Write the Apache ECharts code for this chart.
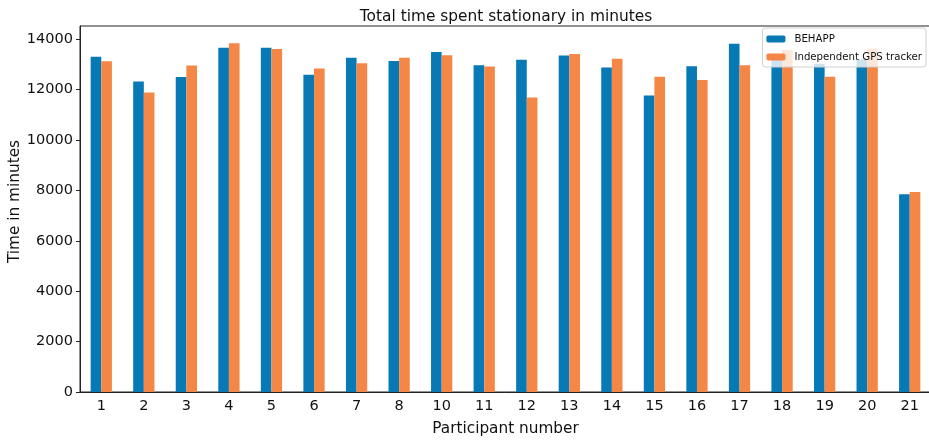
<!DOCTYPE html>
<html>
<head>
<meta charset="utf-8">
<script src="https://cdn.jsdelivr.net/npm/echarts@6/dist/echarts.min.js"></script>
<style>
html,body{margin:0;padding:0;background:#fff;}
#c{width:929px;height:440px;}
</style>
</head>
<body>
<div id="c"></div>
<script>
const participants = ['1','2','3','4','5','6','7','8','10','11','12','13','14','15','16','17','18','19','20','21'];
const behapp = [13300,12320,12500,13660,13660,12590,13260,13130,13490,12960,13180,13350,12870,11760,12920,13820,13200,13020,13200,7850];
const gpsTracker = [13120,11880,12950,13840,13610,12830,13040,13260,13360,12910,11680,13410,13220,12510,12380,12960,13580,12510,13620,7930];
const yTicks = [0,2000,4000,6000,8000,10000,12000,14000];

const font = 'DejaVu Sans';
const chart = echarts.init(document.getElementById('c'), null, {renderer:'canvas'});
chart.setOption({
  animation:false,
  backgroundColor:'#fff',
  title:{
    text:'Total time spent stationary in minutes',
    left:501, top:4, textAlign:'center',
    textStyle:{fontFamily:font,fontSize:15.4,fontWeight:'normal',color:'#111'}
  },
  legend:{
    orient:'vertical',
    right:3, top:28,
    itemWidth:19, itemHeight:7, itemGap:8,
    padding:[6,4,5,4],
    backgroundColor:'rgba(255,255,255,0.8)',
    borderColor:'#d0d0d0', borderWidth:1, borderRadius:3,
    textStyle:{fontFamily:font,fontSize:10.2,color:'#111',padding:[0,0,0,4]},
    data:['BEHAPP','Independent GPS tracker']
  },
  grid:{left:80,top:26,right:-2,bottom:48,containLabel:false,outerBoundsMode:'none',show:true,borderColor:'#222',borderWidth:1,backgroundColor:'transparent'},
  xAxis:{
    type:'category',
    data:participants,
    name:'Participant number',
    nameLocation:'middle', nameGap:30, nameMoveOverlap:false,
    nameTextStyle:{fontFamily:font,fontSize:15.3,color:'#111'},
    axisLine:{lineStyle:{color:'#222',width:1}},
    axisTick:{alignWithLabel:true,length:4,lineStyle:{color:'#222'}},
    axisLabel:{fontFamily:font,fontSize:14.5,color:'#111',margin:7,interval:0}
  },
  yAxis:{
    type:'value',
    min:0, max:14520, interval:2000,
    name:'Time in minutes',
    nameLocation:'middle', nameGap:57, nameMoveOverlap:false,
    nameTextStyle:{fontFamily:font,fontSize:15.3,color:'#111',padding:[0,0,0,15]},
    splitLine:{show:false},
    axisLine:{show:true,lineStyle:{color:'#222',width:1}},
    axisTick:{show:true,length:4,lineStyle:{color:'#222'},customValues:yTicks},
    axisLabel:{fontFamily:font,fontSize:14.5,color:'#111',margin:7,customValues:yTicks,formatter:function(v){return String(v);}}
  },
  series:[
    {name:'BEHAPP',type:'bar',data:behapp,barGap:'0%',barCategoryGap:'50%',itemStyle:{color:'#0779b4'}},
    {name:'Independent GPS tracker',type:'bar',data:gpsTracker,barGap:'0%',barCategoryGap:'50%',itemStyle:{color:'#f58746'}}
  ]
});
</script>
</body>
</html>
